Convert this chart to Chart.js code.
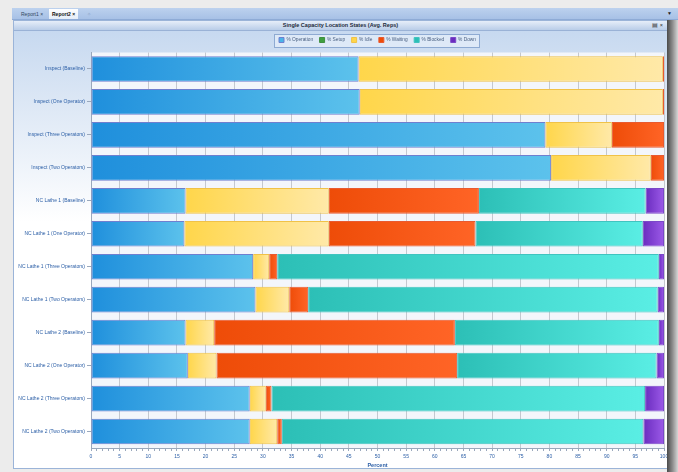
<!DOCTYPE html>
<html>
<head>
<meta charset="utf-8">
<script src="https://cdn.jsdelivr.net/npm/chart.js@4.4.1/dist/chart.umd.min.js"></script>
<style>
  html, body { margin: 0; padding: 0; }
  body {
    width: 678px; height: 472px; overflow: hidden; position: relative;
    background: #ececec; font-family: "Liberation Sans", Arial, sans-serif;
  }
  .tabs {
    position: absolute; left: 12px; top: 8px; width: 666px; height: 11px;
    background: linear-gradient(#bcd1ee, #a7c1e6);
    border-bottom: 1px solid #8eabd6;
  }
  .tab {
    position: absolute; top: 1px; height: 10px; line-height: 10px;
    font-size: 5px; color: #33475f; padding: 0 3px;
  }
  .tab.active { background: linear-gradient(#ffffff, #e4edf8); font-weight: bold; color: #111; }
  .tabs .arrow { position: absolute; right: 6px; top: 0; font-size: 5px; line-height: 10px; color: #222; }
  .panel {
    position: absolute; left: 13px; top: 20px; width: 653px; height: 447px;
    border: 1px solid #9bb4d8;
    background: linear-gradient(#c4d7ef 0%, #dce7f5 18%, #ffffff 45%, #ffffff 100%);
  }
  .titlebar {
    position: absolute; left: 0; top: 0; width: 653px; height: 9px;
    background: linear-gradient(#e6eef9, #b9cde8);
    border-bottom: 1px solid #9ab2d6;
    font-size: 5.5px; font-weight: bold; line-height: 9px; text-align: center; color: #1d2a3a;
  }
  .titlebar .btns { position: absolute; right: 4px; top: 0; font-weight: normal; color: #333; }
  .shadow {
    position: absolute; left: 667px; top: 20px; width: 11px; height: 452px;
    background: linear-gradient(to right, #4a4a4a, #8c8c8c 50%, #d6d6d6);
  }
  #wrap { position: absolute; left: 15px; top: 31px; width: 656px; height: 438px; }
</style>
</head>
<body>
<div class="tabs">
  <span class="tab" style="left:6px">Report1 &#215;</span>
  <span class="tab active" style="left:37px">Report2 &#215;</span>
  <span class="tab" style="left:72px;color:#8aa4c8">&#10023;</span>
  <span class="arrow">&#9660;</span>
</div>
<div class="panel">
  <div class="titlebar">Single Capacity Location States (Avg. Reps)<span class="btns">&#9636; &#215;</span></div>
</div>
<div id="wrap"><canvas id="chart" width="656" height="438"></canvas></div>
<div class="shadow"></div>

<script>
// Categories (locations / scenarios)
const categories = [
  'Inspect (Baseline)', 'Inspect (One Operator)', 'Inspect (Three Operators)', 'Inspect (Two Operators)',
  'NC Lathe 1 (Baseline)', 'NC Lathe 1 (One Operator)', 'NC Lathe 1 (Three Operators)', 'NC Lathe 1 (Two Operators)',
  'NC Lathe 2 (Baseline)', 'NC Lathe 2 (One Operator)', 'NC Lathe 2 (Three Operators)', 'NC Lathe 2 (Two Operators)'
];

// Series values (percent of time)
const operation = [46.7, 46.9, 79.3, 80.3, 16.5, 16.3, 28.3, 28.7, 16.5, 16.9, 27.7, 27.7];
const setup     = [0, 0, 0, 0, 0, 0, 0, 0, 0, 0, 0, 0];
const idle      = [53.1, 52.9, 11.6, 17.4, 25.0, 25.2, 2.8, 5.9, 5.0, 5.0, 2.8, 4.8];
const waiting   = [0.2, 0.2, 9.1, 2.3, 26.2, 25.6, 1.4, 3.3, 42.0, 42.0, 1.0, 0.8];
const blocked   = [0, 0, 0, 0, 29.1, 29.2, 66.6, 61.0, 35.6, 34.8, 65.2, 63.1];
const down      = [0, 0, 0, 0, 3.2, 3.7, 0.9, 1.1, 0.9, 1.3, 3.3, 3.6];

// X axis range
const xMin = 0;
const xMax = 100;

const textBlue = '#2b5ea6';
const fontFamily = '"Liberation Sans", Arial, sans-serif';

// Left-to-right gradient across each bar segment, positioned with the x scale
function gradFill(from, to) {
  return function (ctx) {
    const chart = ctx.chart;
    const xs = chart.scales.x;
    if (ctx.type !== 'data' || !xs) return from;
    let start = 0;
    for (let d = 0; d < ctx.datasetIndex; d++) {
      start += chart.data.datasets[d].data[ctx.dataIndex];
    }
    const x0 = xs.getPixelForValue(start);
    const x1 = xs.getPixelForValue(start + ctx.raw);
    if (!(x1 > x0)) return from;
    const g = chart.ctx.createLinearGradient(x0, 0, x1, 0);
    g.addColorStop(0, from);
    g.addColorStop(1, to);
    return g;
  };
}

function series(label, data, from, to, border) {
  return {
    label: label,
    data: data,
    backgroundColor: gradFill(from, to),
    borderColor: border,
    borderWidth: 1,
    borderSkipped: false,
    barPercentage: 0.78,
    categoryPercentage: 1.0
  };
}

// Plot background behind the bars
const plotBackground = {
  id: 'plotBackground',
  beforeDraw(chart) {
    const { ctx, chartArea: a } = chart;
    ctx.save();
    ctx.fillStyle = '#f3f6fb';
    ctx.fillRect(a.left, a.top, a.right - a.left, a.bottom - a.top);
    ctx.restore();
  }
};

// Thin box round the legend items
const legendFrame = {
  id: 'legendFrame',
  beforeDraw(chart) {
    const boxes = chart.legend && chart.legend.legendHitBoxes;
    if (!boxes || !boxes.length) return;
    let l = Infinity, t = Infinity, r = -Infinity, b = -Infinity;
    boxes.forEach(h => {
      l = Math.min(l, h.left); t = Math.min(t, h.top);
      r = Math.max(r, h.left + h.width); b = Math.max(b, h.top + h.height);
    });
    const ctx = chart.ctx;
    ctx.save();
    ctx.fillStyle = 'rgba(226,236,249,0.8)';
    ctx.strokeStyle = '#8eaad2';
    ctx.lineWidth = 1;
    const x = Math.round(l - 5) + 0.5, y = Math.round(t - 4) + 0.5;
    const w = Math.round(r - l + 8), h = Math.round(b - t + 8);
    ctx.fillRect(x, y, w, h);
    ctx.strokeRect(x, y, w, h);
    ctx.restore();
  }
};

new Chart(document.getElementById('chart'), {
  type: 'bar',
  data: {
    labels: categories,
    datasets: [
      series('% Operation', operation, '#1f8fdc', '#5cc2ec', '#6f7fcf'),
      series('% Setup', setup, '#3f9f3f', '#7fd06a', '#3f8f3f'),
      series('% Idle', idle, '#ffd64a', '#ffe9a8', '#f0c248'),
      series('% Waiting', waiting, '#ee4c08', '#ff6426', '#e85a30'),
      series('% Blocked', blocked, '#2cbfb6', '#5aeee4', '#40c4c0'),
      series('% Down', down, '#6a2cbf', '#9c5ae8', '#7a48c8')
    ]
  },
  options: {
    indexAxis: 'y',
    responsive: false,
    animation: false,
    layout: { padding: { left: 0, right: 7, top: 0, bottom: 0 } },
    plugins: {
      title: { display: false },
      tooltip: { enabled: false },
      legend: {
        display: true,
        position: 'top',
        fullSize: false,
        labels: {
          boxWidth: 5,
          boxHeight: 5,
          padding: 6.5,
          color: '#4a6080',
          font: { family: fontFamily, size: 4.8 }
        }
      }
    },
    scales: {
      x: {
        stacked: true,
        min: xMin,
        max: xMax,
        afterFit(scale) {
          scale.height = 21;
          scale.paddingLeft = 0;
          scale.paddingRight = 0;
        },
        border: { color: '#9aa8bc' },
        grid: {
          color: ctx => (ctx.tick && ctx.tick.value % 5 === 0 ? '#c4c8cf' : 'rgba(0,0,0,0)'),
          tickColor: '#9aa8bc',
          tickLength: 3,
          drawOnChartArea: true
        },
        ticks: {
          stepSize: 1,
          autoSkip: false,
          maxRotation: 0,
          padding: 3,
          color: textBlue,
          font: { family: fontFamily, size: 5 },
          callback: v => (v % 5 === 0 ? String(v) : '')
        },
        title: {
          display: true,
          text: 'Percent',
          color: textBlue,
          padding: 0,
          font: { family: fontFamily, size: 5.5, weight: 'bold' }
        }
      },
      y: {
        stacked: true,
        afterFit(scale) { scale.width = 76; },
        border: { color: '#9aa8bc' },
        grid: { drawOnChartArea: false, offset: false, tickLength: 4, tickColor: '#9aa8bc' },
        ticks: {
          color: textBlue,
          padding: 2,
          font: { family: fontFamily, size: 5 }
        }
      }
    }
  },
  plugins: [plotBackground, legendFrame]
});
</script>
</body>
</html>
